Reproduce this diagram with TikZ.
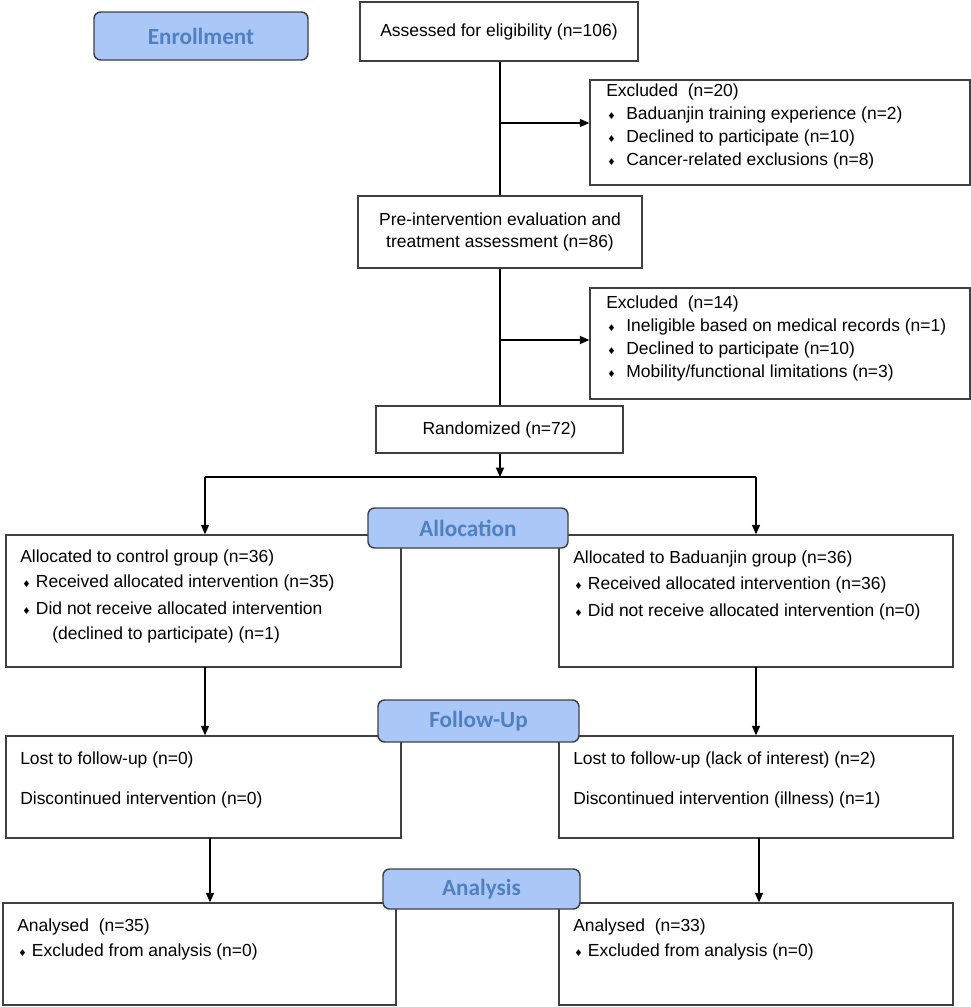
\documentclass[tikz,border=0pt]{standalone}
\usepackage{fontspec}
\setmainfont{Liberation Sans}
\newfontfamily\labfont{Carlito}
\newfontfamily\djvfont{DejaVu Sans}
\usetikzlibrary{arrows.meta,fit}
\definecolor{labfill}{RGB}{170,199,248}
\definecolor{labtext}{RGB}{80,128,192}
\definecolor{boxline}{RGB}{64,64,64}
\newcommand{\mybullet}{{\djvfont\fontsize{7}{7}\selectfont ♦}}
\begin{document}
\begin{tikzpicture}[x=0.75pt,y=-0.75pt,
  box/.style={draw=boxline,line width=1.1pt,fill=white,inner sep=0pt},
  lab/.style={draw=boxline,line width=1.1pt,fill=labfill,rounded corners=5pt,inner sep=0pt},
  labtxt/.style={inner sep=0pt,font=\labfont\bfseries\fontsize{17.4}{20}\selectfont,text=labtext},
  txt/.style={anchor=mid west,inner sep=0pt,font=\fontsize{13.1}{16}\selectfont},
  ctxt/.style={inner sep=0pt,font=\fontsize{13.1}{16.5}\selectfont,align=center},
  conn/.style={draw=black,line width=1.1pt},
  arr/.style={conn,-{Triangle[length=7pt,width=6pt]}}]
\useasboundingbox (0,0) rectangle (971,1007);

% boxes
\node[box,fit={(360,2) (638,61)}] (assess) {};
\node[box,fit={(590,80) (970,185)}] (excl1) {};
\node[box,fit={(358,196) (642,268)}] (preint) {};
\node[box,fit={(590,288) (970,399)}] (excl2) {};
\node[box,fit={(376,406) (623,453)}] (rand) {};
\node[box,fit={(6,535) (401,667)}] (allocL) {};
\node[box,fit={(559,535) (953,667)}] (allocR) {};
\node[box,fit={(6,736) (401,838)}] (fuL) {};
\node[box,fit={(559,736) (953,838)}] (fuR) {};
\node[box,fit={(3,903) (396,1005)}] (anL) {};
\node[box,fit={(559,903) (953,1005)}] (anR) {};

% centred texts
\node[ctxt] (assessT) at (assess.center) {Assessed for eligibility (n=106)};
\node[ctxt] (preintT) at (preint.center) {Pre-intervention evaluation and\\treatment assessment (n=86)};
\node[ctxt] (randT) at (rand.center) {Randomized (n=72)};

% texts
\node[txt] (e1a) at (606,93) {Excluded\ \ (n=20)};
\node[txt] (e1b) at (607,116) {\mybullet\hspace{8pt}Baduanjin training experience (n=2)};
\node[txt] (e1c) at (607,139) {\mybullet\hspace{8pt}Declined to participate (n=10)};
\node[txt] (e1d) at (607,162) {\mybullet\hspace{8pt}Cancer-related exclusions (n=8)};

\node[txt] (e2a) at (606,305) {Excluded\ \ (n=14)};
\node[txt] (e2b) at (607,328) {\mybullet\hspace{8pt}Ineligible based on medical records (n=1)};
\node[txt] (e2c) at (607,351) {\mybullet\hspace{8pt}Declined to participate (n=10)};
\node[txt] (e2d) at (607,374) {\mybullet\hspace{8pt}Mobility/functional limitations (n=3)};

\node[txt] (aLa) at (20,559) {Allocated to control group (n=36)};
\node[txt] (aLb) at (22,584) {\mybullet\hspace{4pt}Received allocated intervention (n=35)};
\node[txt] (aLc) at (22,611) {\mybullet\hspace{4pt}Did not receive allocated intervention};
\node[txt] (aLd) at (52,636) {(declined to participate) (n=1)};

\node[txt] (aRa) at (573,560) {Allocated to Baduanjin group (n=36)};
\node[txt] (aRb) at (574,586) {\mybullet\hspace{4pt}Received allocated intervention (n=36)};
\node[txt] (aRc) at (574,613) {\mybullet\hspace{4pt}Did not receive allocated intervention (n=0)};

\node[txt] (fLa) at (20,761) {Lost to follow-up (n=0)};
\node[txt] (fLb) at (20,801) {Discontinued intervention (n=0)};
\node[txt] (fRa) at (573,761) {Lost to follow-up (lack of interest) (n=2)};
\node[txt] (fRb) at (573,801) {Discontinued intervention (illness) (n=1)};

\node[txt] (nLa) at (17,928) {Analysed\ \ (n=35)};
\node[txt] (nLb) at (18,953) {\mybullet\hspace{4pt}Excluded from analysis (n=0)};
\node[txt] (nRa) at (573,928) {Analysed\ \ (n=33)};
\node[txt] (nRb) at (574,953) {\mybullet\hspace{4pt}Excluded from analysis (n=0)};

% connectors
\coordinate (j1) at (500,123);
\coordinate (j2) at (500,340);
\coordinate (split) at (500,477);
\coordinate (sl) at (205,477);
\coordinate (sr) at (756,477);
\coordinate (f1) at (205,667);
\coordinate (f2) at (756,667);
\coordinate (g1) at (210,838);
\coordinate (g2) at (759,838);
\draw[conn] (assess.south -| j1) -- (preint.north -| j1);
\draw[arr] (j1) -- (j1 -| excl1.west);
\draw[conn] (preint.south -| j2) -- (rand.north -| j2);
\draw[arr] (j2) -- (j2 -| excl2.west);
\draw[arr] (rand.south -| split) -- (split);
\draw[conn] (sl) -- (sr);
\draw[arr] (sl) -- (sl |- allocL.north);
\draw[arr] (sr) -- (sr |- allocR.north);
\draw[arr] (f1) -- (f1 |- fuL.north);
\draw[arr] (f2) -- (f2 |- fuR.north);
\draw[arr] (g1) -- (g1 |- anL.north);
\draw[arr] (g2) -- (g2 |- anR.north);

% stage labels
\node[lab,fit={(94,12) (308,60)}] (enroll) {};
\node[labtxt] (enrollT) at (enroll.center) {Enrollment};
\node[lab,fit={(368,508) (568,548)}] (alloc) {};
\node[labtxt] (allocT) at (alloc.center) {Allocation};
\node[lab,fit={(378,700) (579,742)}] (follow) {};
\node[labtxt] (followT) at (follow.center) {Follow-Up};
\node[lab,fit={(383,869) (580,909)}] (analysis) {};
\node[labtxt] (analysisT) at (analysis.center) {Analysis};
\end{tikzpicture}
\end{document}
